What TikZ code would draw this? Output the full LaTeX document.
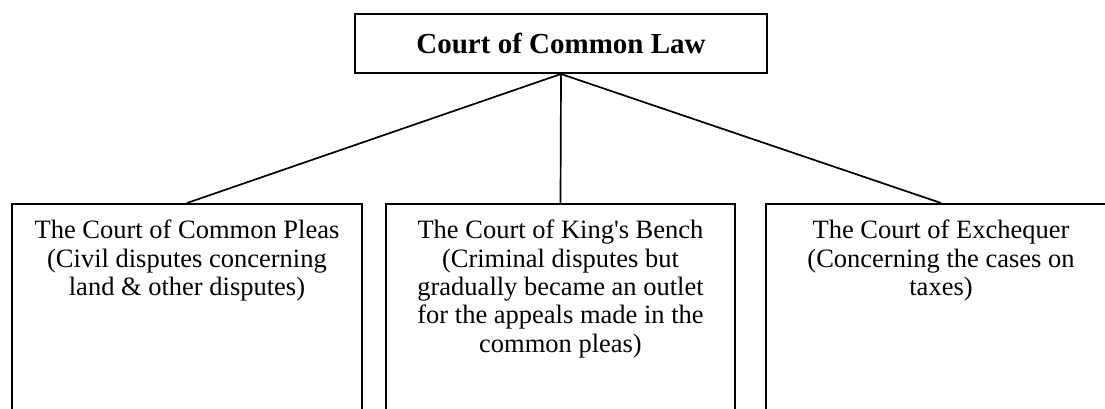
\documentclass[tikz,border=0pt]{standalone}
\usepackage{fontspec}
\setmainfont{Liberation Serif}
\begin{document}
\begin{tikzpicture}[x=1pt,y=1pt,
  boxst/.style={draw=black,line width=2pt,inner sep=0pt,fill=none},
  bodytxt/.style={align=center,inner sep=0pt,font=\fontsize{26.5}{28.3}\selectfont},
  titletxt/.style={font=\fontsize{29}{32}\selectfont\bfseries},
  conn/.style={draw=black,line width=1.7pt}]
\useasboundingbox (0,0) rectangle (1105,-408);
% top box
\node[boxst,minimum width=412,minimum height=59] (top) at (561,-43.5) {};
\node[titletxt] (toptxt) at (top.center) {Court of Common Law};
% lower boxes
\node[boxst,minimum width=350,minimum height=240,anchor=north west] (cp) at (11,-203) {};
\node[boxst,minimum width=349,minimum height=240,anchor=north west] (kb) at (385,-203) {};
\node[boxst,minimum width=350,minimum height=240,anchor=north west] (ex) at (765,-203) {};
\node[bodytxt,anchor=north] (cptxt) at ([yshift=-17]cp.north) {The Court of Common Pleas\\(Civil disputes concerning\\land \& other disputes)};
\node[bodytxt,anchor=north] (kbtxt) at ([yshift=-17]kb.north) {The Court of King\textquotesingle s Bench\\(Criminal disputes but\\gradually became an outlet\\for the appeals made in the\\common pleas)};
\node[bodytxt,anchor=north] (extxt) at ([yshift=-17]ex.north) {The Court of Exchequer\\(Concerning the cases on\\taxes)};
% connectors
\draw[conn] (top.south) -- (cp.north);
\draw[conn] (top.south) -- (kb.north);
\draw[conn] (top.south) -- (ex.north);
\end{tikzpicture}
\end{document}
